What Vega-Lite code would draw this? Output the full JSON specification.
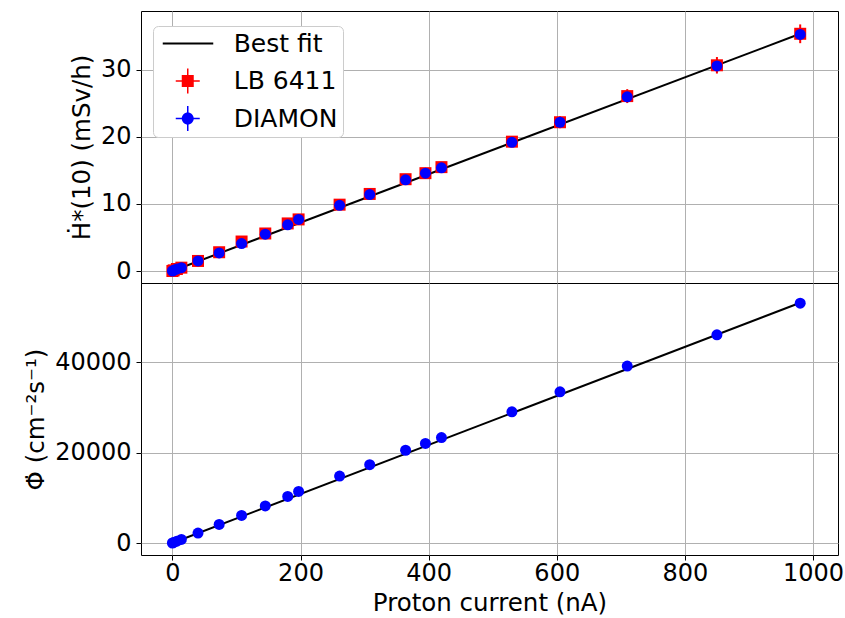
{
  "$schema": "https://vega.github.io/schema/vega-lite/v6.json",
  "padding": {"left": 23, "top": 10, "right": 8, "bottom": 3},
  "background": "white",
  "spacing": 0,
  "bounds": "flush",
  "config": {
    "font": "DejaVu Sans",
    "view": {"stroke": "black", "strokeWidth": 1},
    "axis": {
      "labelFont": "DejaVu Sans", "labelFontSize": 24, "labelColor": "black",
      "titleFont": "DejaVu Sans", "titleFontSize": 24.5, "titleFontWeight": "normal", "titleColor": "black",
      "tickColor": "black", "tickSize": 5, "tickWidth": 1, "labelPadding": 5, "titlePadding": 6,
      "domain": false, "grid": true, "gridColor": "#b0b0b0", "gridWidth": 1
    }
  },
  "datasets": {
    "lb": [
      {"x": 0, "y": 0.0, "lo": 0.0, "hi": 0.0, "series": "LB 6411"},
      {"x": 2, "y": 0.1, "lo": 0.1, "hi": 0.1, "series": "LB 6411"},
      {"x": 7, "y": 0.3, "lo": 0.29, "hi": 0.31, "series": "LB 6411"},
      {"x": 14, "y": 0.5, "lo": 0.48, "hi": 0.52, "series": "LB 6411"},
      {"x": 40, "y": 1.5, "lo": 1.44, "hi": 1.56, "series": "LB 6411"},
      {"x": 73, "y": 2.8, "lo": 2.69, "hi": 2.91, "series": "LB 6411"},
      {"x": 108, "y": 4.4, "lo": 4.22, "hi": 4.58, "series": "LB 6411"},
      {"x": 145, "y": 5.6, "lo": 5.38, "hi": 5.82, "series": "LB 6411"},
      {"x": 180, "y": 7.1, "lo": 6.82, "hi": 7.38, "series": "LB 6411"},
      {"x": 197, "y": 7.7, "lo": 7.39, "hi": 8.01, "series": "LB 6411"},
      {"x": 261, "y": 9.9, "lo": 9.5, "hi": 10.3, "series": "LB 6411"},
      {"x": 308, "y": 11.5, "lo": 11.04, "hi": 11.96, "series": "LB 6411"},
      {"x": 364, "y": 13.7, "lo": 13.15, "hi": 14.25, "series": "LB 6411"},
      {"x": 395, "y": 14.6, "lo": 14.02, "hi": 15.18, "series": "LB 6411"},
      {"x": 420, "y": 15.5, "lo": 14.88, "hi": 16.12, "series": "LB 6411"},
      {"x": 530, "y": 19.3, "lo": 18.53, "hi": 20.07, "series": "LB 6411"},
      {"x": 605, "y": 22.2, "lo": 21.31, "hi": 23.09, "series": "LB 6411"},
      {"x": 710, "y": 26.1, "lo": 25.06, "hi": 27.14, "series": "LB 6411"},
      {"x": 850, "y": 30.7, "lo": 29.47, "hi": 31.93, "series": "LB 6411"},
      {"x": 980, "y": 35.4, "lo": 34.0, "hi": 36.8, "series": "LB 6411"}
    ],
    "dia": [
      {"x": 0, "y": 0.0, "lo": 0.0, "hi": 0.0, "series": "DIAMON"},
      {"x": 2, "y": 0.1, "lo": 0.1, "hi": 0.1, "series": "DIAMON"},
      {"x": 7, "y": 0.3, "lo": 0.294, "hi": 0.306, "series": "DIAMON"},
      {"x": 14, "y": 0.5, "lo": 0.49, "hi": 0.51, "series": "DIAMON"},
      {"x": 40, "y": 1.5, "lo": 1.47, "hi": 1.53, "series": "DIAMON"},
      {"x": 73, "y": 2.7, "lo": 2.65, "hi": 2.75, "series": "DIAMON"},
      {"x": 108, "y": 4.1, "lo": 4.02, "hi": 4.18, "series": "DIAMON"},
      {"x": 145, "y": 5.5, "lo": 5.39, "hi": 5.61, "series": "DIAMON"},
      {"x": 180, "y": 6.9, "lo": 6.76, "hi": 7.04, "series": "DIAMON"},
      {"x": 197, "y": 7.7, "lo": 7.55, "hi": 7.85, "series": "DIAMON"},
      {"x": 261, "y": 9.8, "lo": 9.6, "hi": 10.0, "series": "DIAMON"},
      {"x": 308, "y": 11.4, "lo": 11.17, "hi": 11.63, "series": "DIAMON"},
      {"x": 364, "y": 13.6, "lo": 13.33, "hi": 13.87, "series": "DIAMON"},
      {"x": 395, "y": 14.6, "lo": 14.31, "hi": 14.89, "series": "DIAMON"},
      {"x": 420, "y": 15.4, "lo": 15.09, "hi": 15.71, "series": "DIAMON"},
      {"x": 530, "y": 19.2, "lo": 18.82, "hi": 19.58, "series": "DIAMON"},
      {"x": 605, "y": 22.2, "lo": 21.76, "hi": 22.64, "series": "DIAMON"},
      {"x": 710, "y": 26.0, "lo": 25.48, "hi": 26.52, "series": "DIAMON"},
      {"x": 850, "y": 30.6, "lo": 29.99, "hi": 31.21, "series": "DIAMON"},
      {"x": 980, "y": 35.3, "lo": 34.59, "hi": 36.01, "series": "DIAMON"}
    ],
    "phi": [
      {"x": 0, "y": 0, "lo": 0, "hi": 0},
      {"x": 2, "y": 130, "lo": 127, "hi": 133},
      {"x": 7, "y": 400, "lo": 392, "hi": 408},
      {"x": 14, "y": 800, "lo": 784, "hi": 816},
      {"x": 40, "y": 2200, "lo": 2156, "hi": 2244},
      {"x": 73, "y": 4100, "lo": 4018, "hi": 4182},
      {"x": 108, "y": 6100, "lo": 5978, "hi": 6222},
      {"x": 145, "y": 8200, "lo": 8036, "hi": 8364},
      {"x": 180, "y": 10300, "lo": 10094, "hi": 10506},
      {"x": 197, "y": 11400, "lo": 11172, "hi": 11628},
      {"x": 261, "y": 14800, "lo": 14504, "hi": 15096},
      {"x": 308, "y": 17300, "lo": 16954, "hi": 17646},
      {"x": 364, "y": 20500, "lo": 20090, "hi": 20910},
      {"x": 395, "y": 22000, "lo": 21560, "hi": 22440},
      {"x": 420, "y": 23300, "lo": 22834, "hi": 23766},
      {"x": 530, "y": 29000, "lo": 28420, "hi": 29580},
      {"x": 605, "y": 33400, "lo": 32732, "hi": 34068},
      {"x": 710, "y": 39100, "lo": 38318, "hi": 39882},
      {"x": 850, "y": 46000, "lo": 45080, "hi": 46920},
      {"x": 980, "y": 53000, "lo": 51940, "hi": 54060}
    ],
    "fitH": [{"x": 0, "y": 0.0}, {"x": 980, "y": 35.4}],
    "fitP": [{"x": 0, "y": 0}, {"x": 980, "y": 53100}]
  },
  "vconcat": [
    {
      "width": 697,
      "height": 272,
      "layer": [
        {
          "data": {"name": "fitH"},
          "mark": {"type": "line", "color": "black", "strokeWidth": 2},
          "encoding": {
            "x": {"field": "x", "type": "quantitative", "scale": {"domain": [-49, 1039], "nice": false, "zero": false},
                  "axis": {"values": [0, 200, 400, 600, 800, 1000], "labels": false, "ticks": false, "title": null}},
            "y": {"field": "y", "type": "quantitative", "title": "Ḣ*(10) (mSv/h)", "scale": {"domain": [-1.79, 38.8], "nice": false, "zero": false},
                  "axis": {"values": [0, 10, 20, 30]}}
          }
        },
        {
          "data": {"name": "lb"},
          "mark": {"type": "rule", "color": "red", "strokeWidth": 2},
          "encoding": {
            "x": {"field": "x", "type": "quantitative"},
            "y": {"field": "lo", "type": "quantitative", "title": "Ḣ*(10) (mSv/h)"},
            "y2": {"field": "hi"}
          }
        },
        {
          "data": {"name": "lb"},
          "mark": {"type": "point", "shape": "square", "filled": true, "size": 144, "opacity": 1},
          "encoding": {
            "x": {"field": "x", "type": "quantitative"},
            "y": {"field": "y", "type": "quantitative", "title": "Ḣ*(10) (mSv/h)"},
            "color": {
              "field": "series", "type": "nominal",
              "scale": {"domain": ["Best fit", "LB 6411", "DIAMON"], "range": ["black", "red", "blue"]},
              "legend": {
                "title": null, "orient": "none", "legendX": 12, "legendY": 15,
                "fillColor": "white", "strokeColor": "#cccccc", "cornerRadius": 5, "padding": 5,
                "labelFontSize": 25, "labelFont": "DejaVu Sans", "labelColor": "black",
                "symbolSize": 625, "labelOffset": 50.7, "rowPadding": 11.5, "symbolOpacity": 1, "symbolStrokeWidth": 0,
                "encode": {
                  "symbols": {
                    "update": {
                      "shape": {"signal": "datum.value === 'Best fit' ? 'M-0.62,-0.08H3.42V0.08H-0.62Z' : datum.value === 'LB 6411' ? 'M0.90,-0.48H1.86V0.48H0.90Z M0.42,-0.06H2.34V0.06H0.42Z M1.32,-1.0H1.44V1.0H1.32Z' : 'M1.86,0A0.48,0.48,0,1,1,0.90,0A0.48,0.48,0,1,1,1.86,0Z M0.42,-0.06H2.34V0.06H0.42Z M1.32,-1.0H1.44V1.0H1.32Z'"}
                    }
                  }
                }
              }
            }
          }
        },
        {
          "data": {"name": "dia"},
          "mark": {"type": "rule", "color": "blue", "strokeWidth": 2},
          "encoding": {
            "x": {"field": "x", "type": "quantitative"},
            "y": {"field": "lo", "type": "quantitative", "title": "Ḣ*(10) (mSv/h)"},
            "y2": {"field": "hi"}
          }
        },
        {
          "data": {"name": "dia"},
          "mark": {"type": "point", "shape": "circle", "filled": true, "size": 121, "opacity": 1},
          "encoding": {
            "x": {"field": "x", "type": "quantitative"},
            "y": {"field": "y", "type": "quantitative", "title": "Ḣ*(10) (mSv/h)"},
            "color": {"field": "series", "type": "nominal"}
          }
        }
      ]
    },
    {
      "width": 697,
      "height": 272,
      "layer": [
        {
          "data": {"name": "fitP"},
          "mark": {"type": "line", "color": "black", "strokeWidth": 2},
          "encoding": {
            "x": {"field": "x", "type": "quantitative", "title": "Proton current (nA)", "scale": {"domain": [-49, 1039], "nice": false, "zero": false},
                  "axis": {"values": [0, 200, 400, 600, 800, 1000], "format": "d", "labelPadding": 1}},
            "y": {"field": "y", "type": "quantitative", "title": "Φ̇ (cm⁻²s⁻¹)", "scale": {"domain": [-2650, 57460], "nice": false, "zero": false},
                  "axis": {"values": [0, 20000, 40000], "format": "d"}}
          }
        },
        {
          "data": {"name": "phi"},
          "mark": {"type": "rule", "color": "blue", "strokeWidth": 2},
          "encoding": {
            "x": {"field": "x", "type": "quantitative", "title": "Proton current (nA)"},
            "y": {"field": "lo", "type": "quantitative", "title": "Φ̇ (cm⁻²s⁻¹)"},
            "y2": {"field": "hi"}
          }
        },
        {
          "data": {"name": "phi"},
          "mark": {"type": "point", "shape": "circle", "filled": true, "size": 121, "opacity": 1, "color": "blue"},
          "encoding": {
            "x": {"field": "x", "type": "quantitative", "title": "Proton current (nA)"},
            "y": {"field": "y", "type": "quantitative", "title": "Φ̇ (cm⁻²s⁻¹)"}
          }
        }
      ]
    }
  ]
}
